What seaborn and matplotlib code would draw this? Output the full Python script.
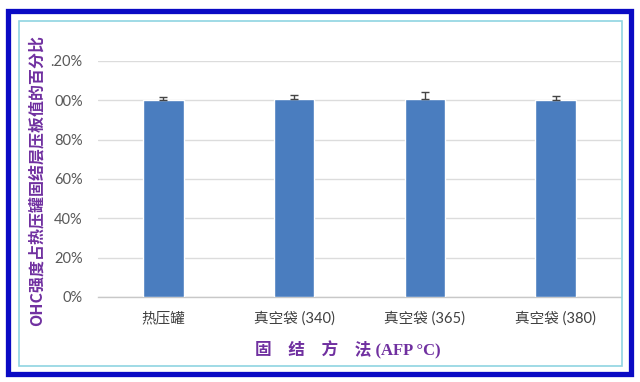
import matplotlib
matplotlib.use("Agg")
import matplotlib.pyplot as plt
import seaborn as sns
import pandas as pd
from matplotlib.patches import Rectangle
from matplotlib.ticker import FixedLocator

categories = ['热压罐', '真空袋 (340)', '真空袋 (365)', '真空袋 (380)']
values = [1.000, 1.005, 1.005, 1.000]
errors = [0.017, 0.022, 0.036, 0.020]
ytick_values = [0.0, 0.2, 0.4, 0.6, 0.8, 1.0, 1.2]
ytick_labels = ['0%', '20%', '40%', '60%', '80%', '00%', '.20%']
ylabel_text = 'OHC强度占热压罐固结层压板值的百分比'
xlabel_text = '固\u3000结\u3000方\u3000法 (AFP °C)'

sns.set_theme(style="white")
plt.rcParams['font.family'] = ['Lato', 'Noto Sans CJK SC', 'DejaVu Sans']

W, H = 640, 382
fig = plt.figure(figsize=(6.4, 3.82), dpi=100)
fig.patch.set_facecolor('white')

# outer blue frame and inner cyan border
fig.patches.append(Rectangle((7.5 / W, 1 - 373.5 / H), 623 / W, 363 / H,
                             transform=fig.transFigure, fill=False,
                             edgecolor='#0a0ac4', linewidth=3.8, zorder=0))
fig.patches.append(Rectangle((19 / W, 1 - 366 / H), 603 / W, 345 / H,
                             transform=fig.transFigure, fill=False,
                             edgecolor='#8fd4e2', linewidth=1.2, zorder=0))

ax = fig.add_axes([98 / W, 1 - 297 / H, 523 / W, 236 / H])
ax.set_facecolor('none')

df = pd.DataFrame({'cat': categories, 'val': values})
sns.barplot(data=df, x='cat', y='val', color='#4a7dbf', saturation=1,
            width=0.31, ax=ax, zorder=3, errorbar=None)

centers = [p.get_x() + p.get_width() / 2 for p in ax.patches]
ax.errorbar(centers, values, yerr=[[0] * len(errors), errors], fmt='none',
            ecolor='#454545', elinewidth=1, capsize=3, capthick=1, zorder=4)

ax.set_xlim(-0.5, len(categories) - 0.5)
ax.set_ylim(0, 1.2)
ax.yaxis.set_major_locator(FixedLocator(ytick_values))
ax.set_yticklabels(ytick_labels)
ax.grid(axis='y', color='#dcdcdc', linewidth=1, zorder=0)
ax.grid(axis='x', visible=False)
for s in ['top', 'right', 'left']:
    ax.spines[s].set_visible(False)
ax.spines['bottom'].set_color('#c8c8c8')
ax.spines['bottom'].set_linewidth(1)
ax.tick_params(axis='y', length=0, pad=11, labelsize=10.5, labelcolor='#595959')
ax.tick_params(axis='x', length=0, pad=10, labelsize=10.5, labelcolor='#404040')
ax.set_xlabel('')
ax.set_ylabel('')

fig.text(37 / W, 1 - 181 / H, ylabel_text, rotation=90, ha='center', va='center',
         color='#7030a0', fontsize=11.5, fontweight='bold',
         family=['Noto Sans CJK SC', 'DejaVu Sans'])
fig.text(348 / W, 1 - 350 / H, xlabel_text, ha='center', va='center',
         color='#7030a0', fontsize=12, fontweight='bold',
         family=['Liberation Serif', 'Noto Sans CJK SC', 'DejaVu Sans'])

fig.savefig('out.png', dpi=100)
